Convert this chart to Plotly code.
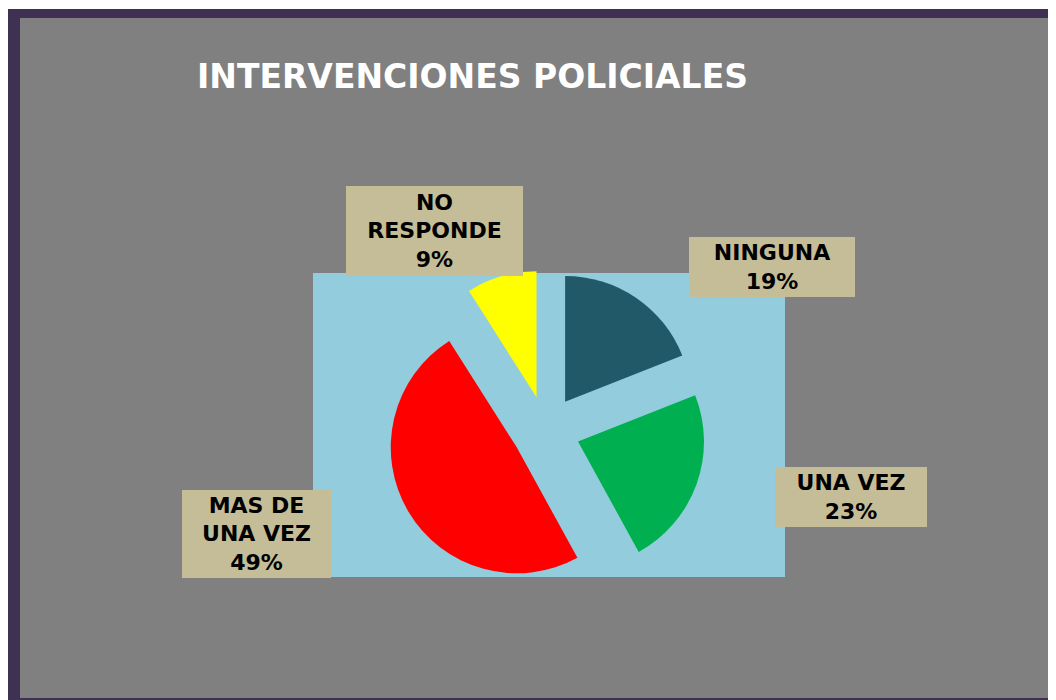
import plotly.graph_objects as go

# ---- data ----
categories = ["NINGUNA", "UNA VEZ", "MAS DE UNA VEZ", "NO RESPONDE"]
label_lines = ["NINGUNA", "UNA VEZ", "MAS DE<br>UNA VEZ", "NO<br>RESPONDE"]
percentages = [19, 23, 49, 9]
slice_colors = ["#215968", "#00B050", "#FF0000", "#FFFF00"]
title_text = "INTERVENCIONES POLICIALES"

W, H = 1056, 700
OFF = 8  # page body margin offset


def px(x):
    return (x - OFF) / W


def py(y):
    return 1 - (y - OFF) / H


FONT = "DejaVu Sans"
PIE_HALF = 160  # half size of the pie domain in pixels
PIE_CX, PIE_CY = 546, 430

fig = go.Figure()
fig.add_trace(go.Pie(
    labels=categories,
    values=percentages,
    marker=dict(colors=slice_colors, line=dict(width=0)),
    sort=False,
    direction="clockwise",
    rotation=0,
    pull=[0.27] * len(percentages),
    textinfo="none",
    hoverinfo="label+percent",
    showlegend=False,
    domain=dict(x=[px(PIE_CX - PIE_HALF), px(PIE_CX + PIE_HALF)],
                y=[py(PIE_CY + PIE_HALF), py(PIE_CY - PIE_HALF)]),
))

shapes = [
    # outer purple frame
    dict(type="rect", xref="paper", yref="paper", x0=0, x1=1, y0=0, y1=py(9),
         fillcolor="#3F3151", line=dict(width=0), layer="below"),
    # gray chart area
    dict(type="rect", xref="paper", yref="paper", x0=px(20), x1=px(1051), y0=py(698), y1=py(18),
         fillcolor="#808080", line=dict(width=0), layer="below"),
    # light blue plot area
    dict(type="rect", xref="paper", yref="paper", x0=px(313), x1=px(785), y0=py(577), y1=py(273),
         fillcolor="#93CDDD", line=dict(width=0), layer="below"),
]

# label boxes: (center x, center y, width, height) in reference pixels
box_geom = [(772, 267, 166, 60), (851, 497, 152, 60), (256, 534, 149, 88), (434, 231, 177, 90)]

annotations = [
    dict(text=f"<b>{title_text}</b>", xref="paper", yref="paper", x=px(472), y=py(76),
         xanchor="center", yanchor="middle", showarrow=False,
         font=dict(family=FONT, size=33, color="white")),
]
for lab, pct, (cx, cy, bw, bh) in zip(label_lines, percentages, box_geom):
    annotations.append(dict(
        text=f"<b>{lab}<br>{pct}%</b>", xref="paper", yref="paper", x=px(cx), y=py(cy),
        xanchor="center", yanchor="middle", showarrow=False, align="center",
        width=bw, height=bh, bgcolor="#C4BD97", borderpad=0, borderwidth=0,
        font=dict(family=FONT, size=22, color="black"),
    ))

fig.update_layout(
    width=W, height=H,
    margin=dict(l=0, r=0, t=0, b=0),
    paper_bgcolor="white",
    plot_bgcolor="white",
    shapes=shapes,
    annotations=annotations,
)

fig.write_html("out.html")
